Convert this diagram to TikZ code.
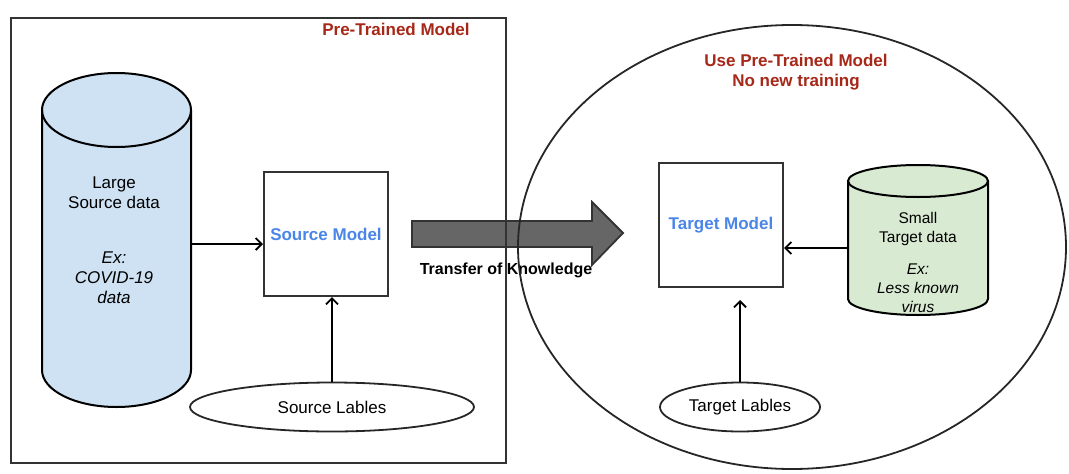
\documentclass[tikz,border=0pt]{standalone}
\usepackage{fontspec}
\setmainfont{Liberation Sans}
\usetikzlibrary{arrows.meta,shapes.geometric}
\definecolor{titlered}{RGB}{166,40,25}
\definecolor{modelblue}{RGB}{74,134,232}
\definecolor{cylblue}{RGB}{207,226,243}
\definecolor{cylgreen}{RGB}{217,234,211}
\definecolor{framegray}{RGB}{51,51,51}
\definecolor{arrowgray}{RGB}{102,102,102}
\tikzset{
  base/.style={font=\fontsize{17}{20}\selectfont},
  modelbox/.style={draw=framegray, line width=2pt, minimum width=124pt, minimum height=124pt, inner sep=0pt, fill=white, font=\fontsize{17}{20}\selectfont\bfseries, text=modelblue},
  labell/.style={draw=black!85, ellipse, line width=1.8pt, inner sep=0pt, font=\fontsize{17}{20}\selectfont},
  arr/.style={line width=2pt, -{Straight Barb[length=6pt,width=12pt,line width=1.8pt]}},
  cyl/.style={draw=black, line width=2pt},
  title/.style={font=\fontsize{17}{20}\selectfont\bfseries, text=titlered, align=center},
}
\begin{document}
\begin{tikzpicture}[x=1pt,y=1pt]
\useasboundingbox (0,0) rectangle (1069,-474);
% big transfer arrow (drawn first, beneath frame lines)
\draw[draw=framegray, fill=arrowgray, line width=1.8pt]
  (412,-221) -- (592,-221) -- (592,-202) -- (623,-233) -- (592,-265) -- (592,-247) -- (412,-247) -- cycle;
\node[font=\fontsize{16}{19}\selectfont\bfseries] (tk) at (506,-270) {Transfer of Knowledge};
% frame and circle
\node[draw=framegray, line width=2pt, minimum width=495pt, minimum height=445.5pt, inner sep=0pt] (frame) at (258.5,-240.25) {};
\node[draw=black!85, line width=1.8pt, ellipse, minimum width=548pt, minimum height=444pt, inner sep=0pt] (circ) at (792,-247) {};
\node[title, anchor=center] (pt) at (396,-29) {Pre-Trained Model};
\node[title] (upt) at (796,-72) {Use Pre-Trained Model\\No new training};
% large cylinder
\node[minimum width=149pt, minimum height=334pt, inner sep=0pt] (large) at (116.5,-240) {};
\fill[cylblue] (42,-110) -- (42,-370) arc[start angle=180, end angle=360, x radius=74.5, y radius=37] -- (191,-110) arc[start angle=0, end angle=180, x radius=74.5, y radius=37] -- cycle;
\draw[cyl] (42,-110) -- (42,-370) arc[start angle=180, end angle=360, x radius=74.5, y radius=37] -- (191,-110);
\draw[cyl] (116.5,-110) ellipse[x radius=74.5, y radius=37];
\node[base, align=center] (lt1) at (114,-193) {Large\\Source data};
\node[base, align=center, font=\fontsize{17}{20}\selectfont\itshape] (lt2) at (114,-278) {Ex:\\COVID-19\\data};
% small cylinder
\node[minimum width=140pt, minimum height=150pt, inner sep=0pt] (small) at (918,-240) {};
\fill[cylgreen] (848,-181) -- (848,-299) arc[start angle=180, end angle=360, x radius=70, y radius=16] -- (988,-181) arc[start angle=0, end angle=180, x radius=70, y radius=16] -- cycle;
\draw[cyl] (848,-181) -- (848,-299) arc[start angle=180, end angle=360, x radius=70, y radius=16] -- (988,-181);
\draw[cyl] (918,-181) ellipse[x radius=70, y radius=16];
\node[align=center, font=\fontsize{15.5}{19}\selectfont] (st1) at (918,-228.5) {Small\\Target data};
\node[align=center, font=\fontsize{15.5}{19}\selectfont\itshape] (st2) at (918,-288) {Ex:\\Less known\\virus};
% models
\node[modelbox] (sm) at (326,-234) {Source Model};
\node[modelbox] (tm) at (721,-225) {Target Model};
% labels
\node[labell, minimum width=284pt, minimum height=49pt] (sl) at (332,-407) {Source Lables};
\node[labell, minimum width=160pt, minimum height=49pt] (tl) at (740,-407) {Target Lables};
% connectors
\draw[arr] (large.east |- 0,-244) -- (sm.west |- 0,-244);
\draw[arr] (sl.north) -- (sl.north |- sm.south);
\draw[arr, shorten >=12pt] (tl.north) -- (tl.north |- tm.south);
\draw[arr] (small.west |- 0,-248) -- (tm.east |- 0,-248);
\end{tikzpicture}
\end{document}
